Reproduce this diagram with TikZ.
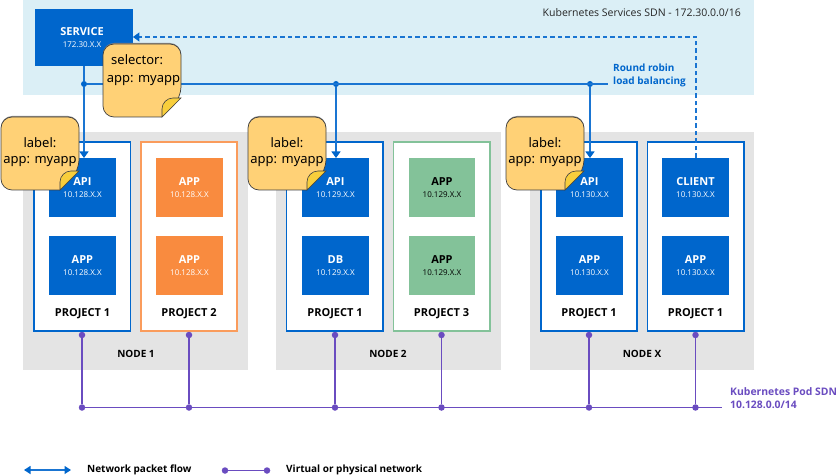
\documentclass[tikz,border=0pt]{standalone}
\usepackage{fontspec}
\setmainfont{Open Sans}
\newfontfamily\notefont{Noto Sans}
\usetikzlibrary{arrows.meta}
\definecolor{blu}{HTML}{0066CC}
\definecolor{lineblu}{HTML}{1A75D2}
\definecolor{band}{HTML}{DBEFF6}
\definecolor{gry}{HTML}{E4E4E4}
\definecolor{org}{HTML}{F98B3F}
\definecolor{grn}{HTML}{83C299}
\definecolor{pur}{HTML}{6A4CC0}
\definecolor{notef}{HTML}{FFD176}
\definecolor{foldf}{HTML}{F8CE3C}
\tikzset{
  x=1pt,y=-1pt,
  nodebg/.style={fill=gry,draw=none},
  proj/.style={fill=white,draw=#1,line width=1.2pt},
  appbox/.style={fill=#1,draw=none,anchor=north west,minimum width=66.5pt,minimum height=59pt,inner sep=0pt},
  title/.style={font=\fontsize{10}{12}\selectfont\bfseries,inner sep=0pt},
  ptitle/.style={font=\fontsize{11}{12}\selectfont\bfseries,inner sep=0pt},
  lab/.style={font=\fontsize{11}{12}\selectfont\bfseries,inner sep=0pt,color=#1},
  sub/.style={font=\fontsize{8}{9}\selectfont,inner sep=0pt,color=#1},
  flow/.style={draw=lineblu,line width=1.2pt},
  tip/.style={-{Triangle[length=6.5pt,width=9pt,color=blu]}},
  bdot/.style={circle,fill=blu,inner sep=0pt,minimum size=6pt},
  pdot/.style={circle,fill=pur,inner sep=0pt,minimum size=6.5pt},
  net/.style={draw=pur,line width=1.4pt},
  notetxt/.style={font=\notefont\fontsize{13}{13}\selectfont,inner sep=0pt,color=black},
}
\newcommand{\noteshape}[3]{% name,x,y (top-left)
  \begin{scope}[shift={(#2,#3)}]
    \fill[black!45,rounded corners=11pt] (39,-1) -- (78,-1) -- (78,20) -- (0,20) -- (0,-1) -- cycle;
    \draw[fill=notef,draw=black!75,line width=.7pt,rounded corners=11pt]
      (39,0) -- (78,0) -- (78,54) [sharp corners] -- (59,73) [rounded corners=11pt] -- (0,73) -- (0,0) -- cycle;
    \draw[fill=foldf,draw=black!75,line width=.6pt]
      (78,54) -- (59,73) -- (59,65) .. controls (59,59) and (64,54) .. (70,54) -- cycle;
    \coordinate (#1) at (39,36);
  \end{scope}
}
\newcommand{\card}[7]{%
  \node[appbox=#4] (#1) at (#2,#3) {};
  \node[lab=#5] (#1t) at ([yshift=-24pt]#1.north) {#6};
  \node[sub=#5] (#1s) at ([yshift=-37pt]#1.north) {#7};
}
\begin{document}
\begin{tikzpicture}
\useasboundingbox (0,0) rectangle (836,476);
% bands
\fill[band] (23,0) rectangle (754,95);
\fill[nodebg] (23,132) rectangle (248,370);
\fill[nodebg] (276,132) rectangle (501,370);
\fill[nodebg] (530,132) rectangle (754,370);
\node[font=\fontsize{10.5}{12}\selectfont,text=black!85,anchor=east,inner sep=0pt] (sdn) at (741,13) {Kubernetes Services SDN - 172.30.0.0/16};
% project boxes
\draw[proj=blu] (34,142) rectangle (130.5,331);
\draw[proj=org!85] (141,142) rectangle (237,331);
\draw[proj=blu] (286.5,142) rectangle (383,331);
\draw[proj=grn] (393.5,142) rectangle (490,331);
\draw[proj=blu] (541,142) rectangle (637,331);
\draw[proj=blu] (647.5,142) rectangle (744,331);
% project / node titles
\foreach \n/\x/\t in {a/82.5/PROJECT 1,b/189/PROJECT 2,c/335/PROJECT 1,d/441.5/PROJECT 3,e/589/PROJECT 1,f/695.5/PROJECT 1}
  \node[ptitle] (pt\n) at (\x,313.5) {\t};
\foreach \n/\x/\t in {a/136/NODE 1,b/388/NODE 2,c/642/NODE X}
  \node[title] (nt\n) at (\x,354) {\t};
% cards
\card{a1}{49}{158}{blu}{white}{API}{10.128.X.X}
\card{a2}{49}{236}{blu}{white}{APP}{10.128.X.X}
\card{b1}{156}{158}{org}{white}{APP}{10.128.X.X}
\card{b2}{156}{236}{org}{white}{APP}{10.128.X.X}
\card{c1}{302}{158}{blu}{white}{API}{10.129.X.X}
\card{c2}{302}{236}{blu}{white}{DB}{10.129.X.X}
\card{d1}{408.5}{158}{grn}{black}{APP}{10.129.X.X}
\card{d2}{408.5}{236}{grn}{black}{APP}{10.129.X.X}
\card{e1}{556}{158}{blu}{white}{API}{10.130.X.X}
\card{e2}{556}{236}{blu}{white}{APP}{10.130.X.X}
\card{f1}{662}{158}{blu}{white}{CLIENT}{10.130.X.X}
\card{f2}{662}{236}{blu}{white}{APP}{10.130.X.X}
% service
\node[fill=blu,anchor=north west,minimum width=97.5pt,minimum height=57pt,inner sep=0pt] (svc) at (35,9) {};
\node[lab=white] (svct) at (82,32) {SERVICE};
\node[sub=white] (svcs) at (82,45) {172.30.X.X};
% round robin lines
\coordinate (rrend) at (608,84);
\node[bdot] (d1) at (84,84) {};
\node[bdot] (d2) at (336,84) {};
\node[bdot] (d3) at (590,84) {};
\draw[flow] (d1) -- (rrend);
\draw[flow] (svc.south -| d1) -- (d1);
\draw[flow,tip] (d1) -- (d1 |- a1.north);
\draw[flow,tip] (d2) -- (d2 |- c1.north);
\draw[flow,tip] (d3) -- (d3 |- e1.north);
\node[font=\fontsize{10}{13}\selectfont\bfseries,text=blu,align=left,anchor=north west,inner sep=0pt] (rr) at (613,63.5) {Round robin\\load balancing};
% dashed
\coordinate (bend) at (696,37);
\draw[flow,dash pattern=on 4.5pt off 3pt,tip] (f1.north -| bend) -- (bend) -- (bend -| svc.east);
% purple network
\coordinate (busend) at (722,407);
\node[pdot] (t1) at (82,335) {};
\node[pdot] (t2) at (189,335) {};
\node[pdot] (t3) at (335,335) {};
\node[pdot] (t4) at (441.5,335) {};
\node[pdot] (t5) at (589,335) {};
\node[pdot] (t6) at (695.5,335) {};
\node[pdot] (u1) at (82,407.5) {};
\node[pdot] (u2) at (189,407.5) {};
\node[pdot] (u3) at (335,407.5) {};
\node[pdot] (u4) at (441.5,407.5) {};
\node[pdot] (u5) at (589,407.5) {};
\node[pdot] (u6) at (695.5,407.5) {};
\draw[net] (u1) -- (busend |- u1);
\foreach \i in {1,...,6} \draw[net] (t\i) -- (u\i);
\node[font=\fontsize{10.4}{13}\selectfont\bfseries,text=pur,align=left,anchor=north west,inner sep=0pt] (pod) at (730,387) {Kubernetes Pod SDN\\10.128.0.0/14};
% notes
\noteshape{ns}{103}{44}
\node[notetxt,anchor=west] (nst) at (111,59.5) {selector:};
\node[notetxt] (nsu) at (143.5,80) {app: myapp};
\noteshape{n1}{1}{117}
\noteshape{n2}{248}{117}
\noteshape{n3}{506}{117}
\node[notetxt] (n1a) at (40,143) {label:};
\node[notetxt] (n1b) at (40,161) {app: myapp};
\node[notetxt] (n2a) at (287,143) {label:};
\node[notetxt] (n2b) at (287,161) {app: myapp};
\node[notetxt] (n3a) at (545,143) {label:};
\node[notetxt] (n3b) at (545,161) {app: myapp};
% legend
\coordinate (la) at (24,470);
\coordinate (lb) at (71,470);
\draw[flow,{Triangle[length=6.5pt,width=8pt,color=blu]}-{Triangle[length=6.5pt,width=8pt,color=blu]}] (la) -- (lb);
\node[title,anchor=west] (lt1) at (87,470) {Network packet flow};
\node[pdot] (lc) at (225,470.5) {};
\node[pdot] (ld) at (267,470.5) {};
\draw[net] (lc) -- (ld);
\node[title,anchor=west] (lt2) at (286,470) {Virtual or physical network};
\end{tikzpicture}
\end{document}
